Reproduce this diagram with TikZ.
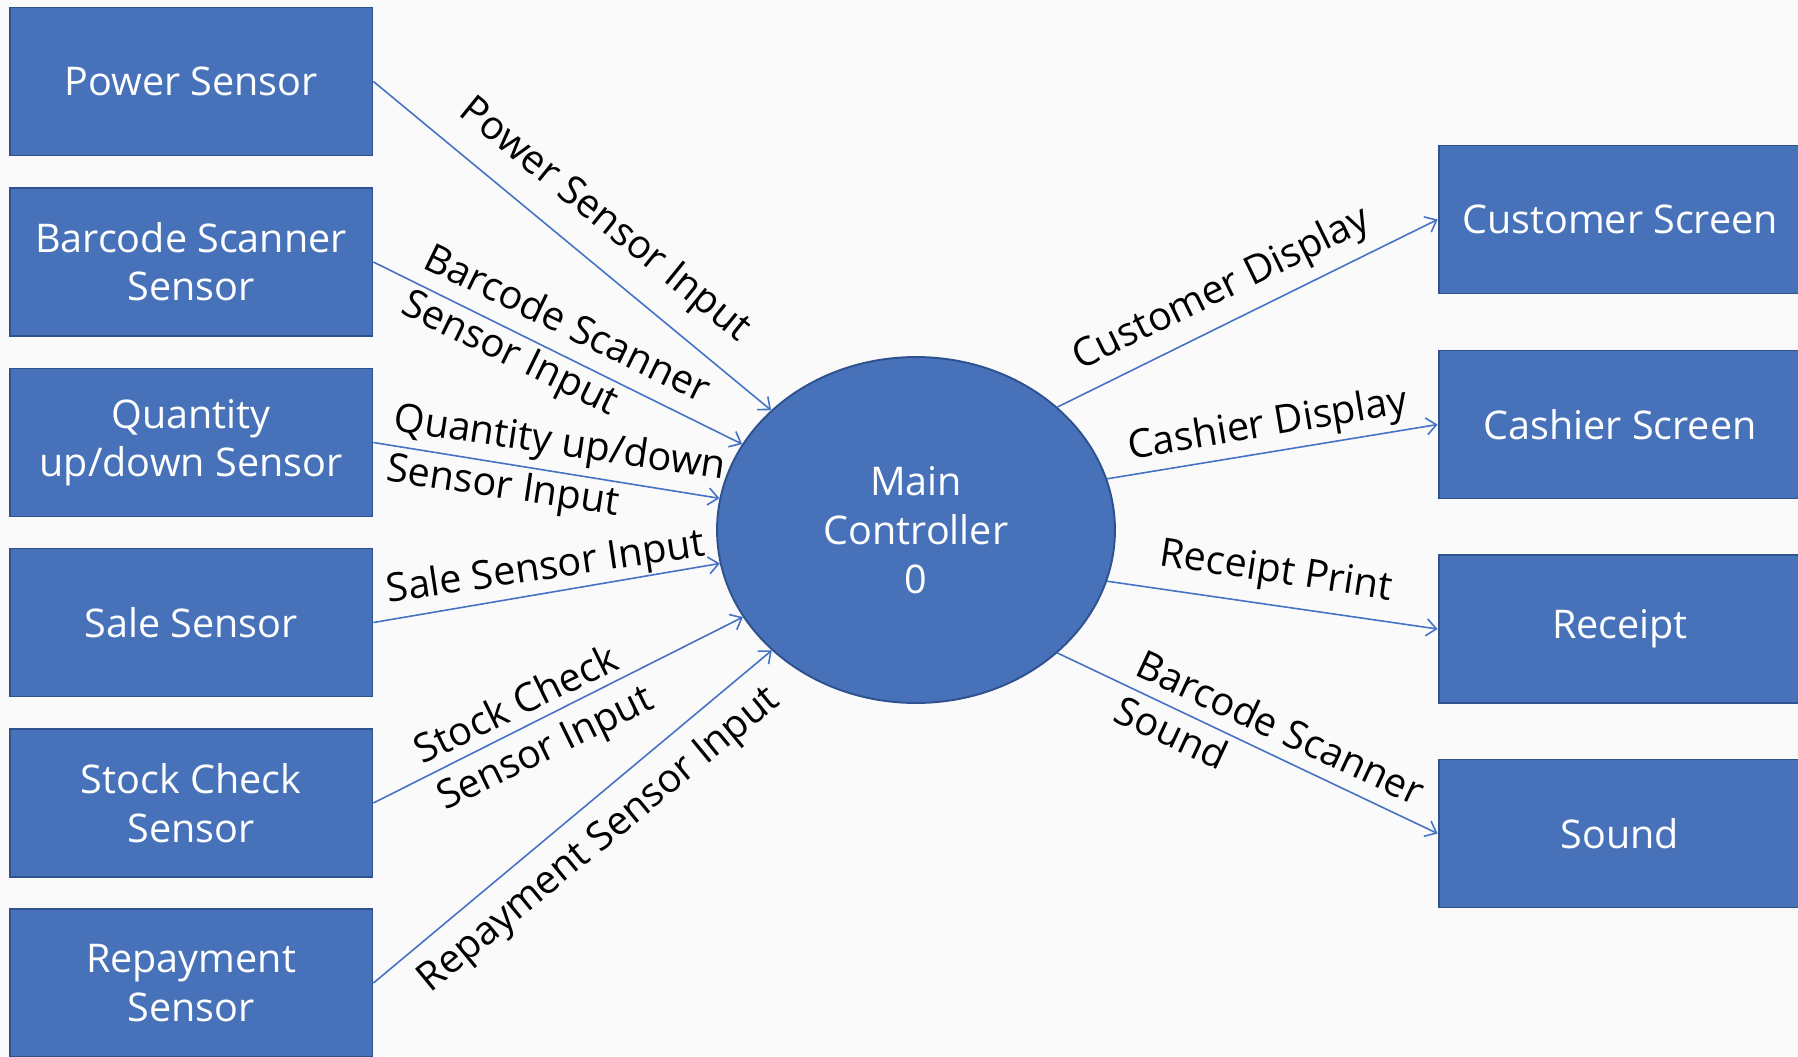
\documentclass[tikz,border=0pt]{standalone}
\usepackage{fontspec}
\setmainfont{Open Sans}
\usetikzlibrary{positioning, arrows.meta, shapes.geometric}

\definecolor{boxblue}{HTML}{4772BA}
\definecolor{boxedge}{HTML}{2F528F}
\definecolor{flowblue}{HTML}{4472C4}
\definecolor{paper}{HTML}{FAFAFA}

\tikzset{
  sensor/.style={draw=boxedge, line width=1.1pt, fill=boxblue, text=white,
    minimum width=7.26cm, minimum height=2.96cm, inner sep=0pt, align=center,
    font=\fontsize{22.5}{27.5}\selectfont},
  ctrl/.style={ellipse, draw=boxedge, line width=1.1pt, fill=boxblue, text=white,
    minimum width=7.96cm, minimum height=6.92cm, inner sep=0pt, align=center,
    font=\fontsize{22.5}{27.8}\selectfont},
  flow/.style={draw=flowblue, line width=0.9pt,
    -{Straight Barb[length=0.2cm, width=0.34cm]}},
  flowlabel/.style={inner sep=0pt, align=left, font=\fontsize{22.5}{29}\selectfont}
}

\begin{document}
\begin{tikzpicture}[x=0.02cm, y=-0.02cm]
    % Draw background
    \path[use as bounding box, fill=paper] (0,0) rectangle (1798,1056);
    \clip (0,0) rectangle (1798,1056);

    % Draw sensors on the left
    \foreach \n/\y/\t in {pw/81.5/{Power Sensor}, bc/262/{Barcode Scanner\\Sensor},
      qt/442.5/{Quantity\\up/down Sensor}, sl/622.5/{Sale Sensor},
      st/803/{Stock Check\\Sensor}, rp/983/{Repayment\\Sensor}} {
      \node[sensor] (\n) at (191,\y) {\t};
    }

    % Draw the main controller
    \node[ctrl] (main) at (916,530) {Main\\Controller\\0};

    % Draw outputs on the right
    \foreach \n/\y/\t in {cs/219.5/{Customer Screen}, ch/424.5/{Cashier Screen},
      rc/629/{Receipt}, sd/833.5/{Sound}} {
      \node[sensor] (\n) at (1620,\y) {\t};
    }

    % Draw input flows
    \foreach \n in {pw,bc,qt,sl,st,rp} {
      \draw[flow] (\n.east) -- (main);
    }

    % Draw output flows
    \foreach \a/\n in {41/cs, 15/ch, -15/rc, -41/sd} {
      \draw[flow] (main.\a) -- (\n.west);
    }

    % Flow labels
    \foreach \n/\x/\y/\r/\t in {pwin/604/221/-39/{Power Sensor Input},
      bcin/555/349/-26/{Barcode Scanner\\Sensor Input},
      qtin/556/470/-8.4/{Quantity up/down\\Sensor Input},
      slin/546/569/8.4/{Sale Sensor Input},
      stin/535/727/26/{Stock Check\\Sensor Input},
      rpin/600/841/39.5/{Repayment Sensor Input},
      csout/1222/290/26/{Customer Display},
      chout/1268/426/9.4/{Cashier Display},
      rcout/1276/573/-8.6/{Receipt Print},
      sdout/1270/750/-25/{Barcode Scanner\\Sound}} {
      \node[flowlabel, rotate=\r] (\n) at (\x,\y) {\t};
    }

\end{tikzpicture}
\end{document}
